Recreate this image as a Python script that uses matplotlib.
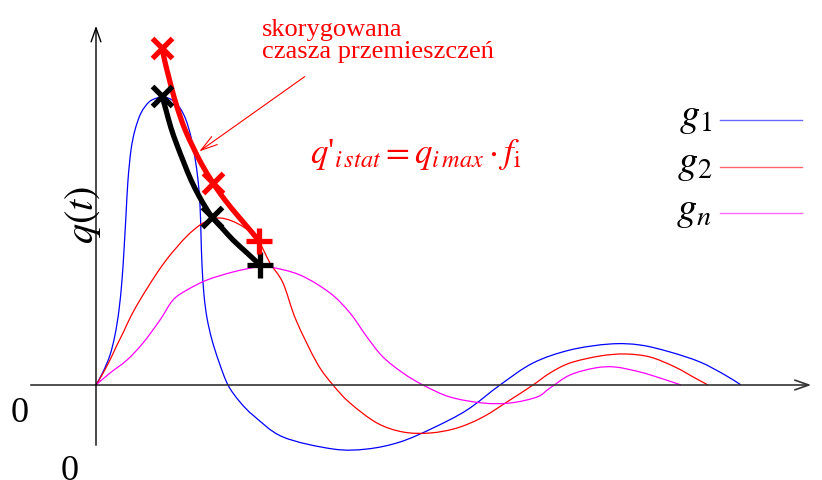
import numpy as np
import matplotlib.pyplot as plt
from matplotlib.path import Path
from matplotlib.patches import PathPatch

plt.rcParams['mathtext.fontset'] = 'stix'
plt.rcParams['font.family'] = ['Liberation Serif', 'DejaVu Serif']

# responses of the three load cases, q(t)
t_g1 = [0, 7, 14, 19, 23, 26, 28, 30, 32, 35, 39, 45, 53, 61, 68, 76, 84, 90, 95, 99,
        102, 104, 105, 106, 108, 111, 116, 123, 132, 144, 158, 187, 237, 271, 304, 337,
        371, 404, 437, 474, 514, 544, 574, 604, 629, 645]
q_g1 = [0, 13, 30, 50, 75, 105, 135, 170, 205, 235, 255, 272, 283, 287, 288, 285, 277,
        265, 248, 227, 205, 180, 150, 120, 90, 67, 45, 23, 0, -17, -31, -52, -64, -64,
        -57, -43, -25, 0, 22, 35, 41, 40, 33, 23, 10, 0]

t_g2 = [0, 6, 14, 21, 27, 35, 44, 52, 61, 71, 81, 92, 104, 114, 124, 136, 149, 162, 174,
        187, 200, 221, 237, 254, 281, 307, 334, 361, 387, 414, 437, 454, 474, 504,
        529, 554, 579, 599, 612]
q_g2 = [0, 10, 25, 40, 52, 69, 85, 98, 112, 126, 138, 150, 160, 165, 167, 164, 157, 145,
        122, 102, 65, 22, 0, -18, -38, -47, -48, -43, -32, -15, 0, 12, 22, 29, 31,
        28, 18, 7, 0]

t_gn = [0, 14, 31, 47, 64, 77, 91, 111, 137, 161, 174, 204, 234, 254, 271, 287, 307, 327,
        354, 387, 414, 441, 454, 474, 499, 519, 544, 564, 585]
q_gn = [0, 12, 25, 42, 65, 85, 95, 105, 113, 118, 118, 110, 92, 72, 48, 28, 12, 0, -12,
        -18, -18, -12, -3, 10, 17, 18, 13, 7, 0]

# envelope of maxima and the corrected envelope
t_env = [66, 70, 75, 81, 88, 95, 103, 110, 116, 126, 137, 150, 164]
q_env = [289, 275, 257, 240, 222, 205, 189, 177, 168, 157, 145, 133, 120]
t_cor = [66, 69, 73, 78, 84, 90, 97, 105, 117, 129, 142, 154, 163]
q_cor = [337, 323, 307, 288, 269, 253, 238, 222, 202, 185, 169, 155, 144]

legend_labels = [r'$g_{\mathrm{1}}$', r'$g_{\mathrm{2}}$', r'$g_{n}$']
colors = ['blue', 'red', 'magenta']


def smooth_path(t, q):
    # cubic Bezier segments through every point (Catmull-Rom tangents)
    p = np.column_stack([t, q]).astype(float)
    verts = [p[0]]
    codes = [Path.MOVETO]
    for i in range(len(p) - 1):
        p0 = p[i - 1] if i > 0 else p[i]
        p3 = p[i + 2] if i + 2 < len(p) else p[i + 1]
        c1 = p[i] + (p[i + 1] - p0) / 6.0
        c2 = p[i + 1] - (p3 - p[i]) / 6.0
        verts += [c1, c2, p[i + 1]]
        codes += [Path.CURVE4] * 3
    return Path(verts, codes)


def draw_curve(ax, t, q, **kw):
    ax.add_patch(PathPatch(smooth_path(t, q), fill=False, **kw))


fig = plt.figure(figsize=(8.22, 4.8), dpi=100)
ax = fig.add_axes([0, 0, 1, 1])
ax.set_xlim(-96, 726)
ax.set_ylim(-95, 385)
ax.axis('off')

# axes with open arrow heads
ax.annotate('', xy=(718, 0), xytext=(-68, 0),
            arrowprops=dict(arrowstyle='->,head_length=1.0,head_width=0.35', color='#333333', lw=1.2))
ax.annotate('', xy=(0, 362), xytext=(0, -63),
            arrowprops=dict(arrowstyle='->,head_length=1.0,head_width=0.35', color='black', lw=1.0))

for t, q, c in zip([t_g1, t_g2, t_gn], [q_g1, q_g2, q_gn], colors):
    draw_curve(ax, t, q, edgecolor=c, lw=0.9)

draw_curve(ax, t_env, q_env, edgecolor='black', lw=3.8, capstyle='round')
draw_curve(ax, t_cor, q_cor, edgecolor='red', lw=3.8, capstyle='round')
for tt, qq, col in [(t_env, q_env, 'black'), (t_cor, q_cor, 'red')]:
    ax.plot([tt[0], tt[8]], [qq[0], qq[8]], 'x', color=col, ms=15, mew=3.8, ls='none')
    ax.plot(tt[-1], qq[-1], '+', color=col, ms=19, mew=3.8)

# legend drawn by hand
for i, (lab, c) in enumerate(zip(legend_labels, colors)):
    y = 265 - i * 46.5
    ax.plot([624, 706], [y, y], color=c, lw=1.0, alpha=0.6)
    ax.text(616, y + 2, lab, fontsize=29, ha='right', va='center')

ax.text(166, 344, 'skorygowana\nczasza przemieszczeń', color='red', fontsize=19,
        ha='left', va='center', linespacing=1.0)
ax.annotate('', xy=(101, 232), xytext=(211, 310),
            arrowprops=dict(arrowstyle='->,head_length=1.2,head_width=0.35', color='red', lw=0.8))
ax.text(214, 230, r"$q$'$_{i\,stat} = q_{i\,max}\cdot f_{\mathrm{i}}$", color='red',
        fontsize=25, ha='left', va='center')

ax.text(-13, 170, r'$q(t)$', fontsize=29, rotation=90, ha='center', va='center')
ax.text(-76, -29, '0', fontsize=26, ha='center', va='center')
ax.text(-26, -87, '0', fontsize=26, ha='center', va='center')
ax.text(724, -35, r'$t$', fontsize=26, ha='left', va='center')

fig.savefig('out.png', dpi=100)
